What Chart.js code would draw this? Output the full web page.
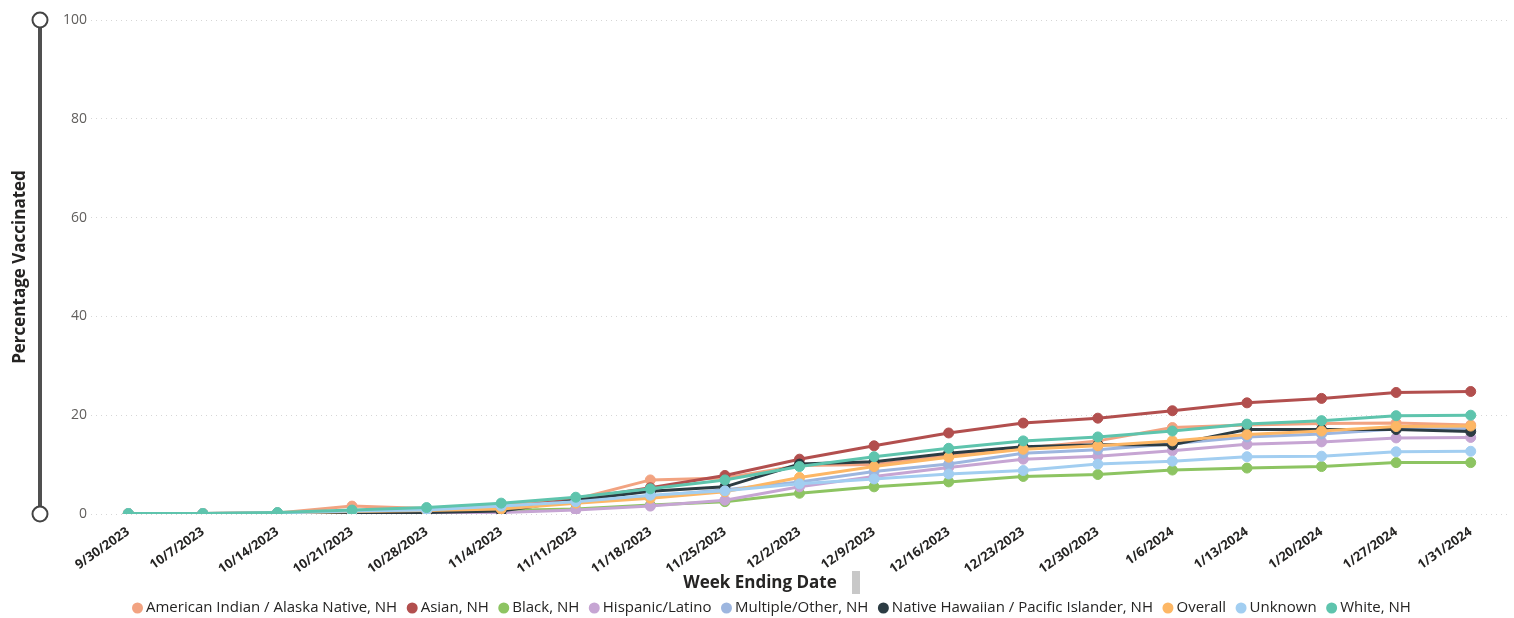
<!DOCTYPE html>
<html>
<head>
<meta charset="utf-8">
<title>Percentage Vaccinated by Week</title>
<script src="https://cdn.jsdelivr.net/npm/chart.js@4/dist/chart.umd.min.js"></script>
<style>
  html, body { margin: 0; padding: 0; background: #ffffff; }
  #wrap { width: 1514px; height: 618px; position: relative; }
</style>
</head>
<body>
<div id="wrap"><canvas id="chart" width="1514" height="618"></canvas></div>
<script>
// Week ending dates (x categories)
const weeks = ['9/30/2023', '10/7/2023', '10/14/2023', '10/21/2023', '10/28/2023', '11/4/2023',
  '11/11/2023', '11/18/2023', '11/25/2023', '12/2/2023', '12/9/2023', '12/16/2023',
  '12/23/2023', '12/30/2023', '1/6/2024', '1/13/2024', '1/20/2024', '1/27/2024', '1/31/2024'];

// Y axis ticks
const yTicks = [0, 20, 40, 60, 80, 100];

// Percentage vaccinated per group
const aian     = [0.1, 0.1, 0.2, 1.6, 1.1, 1.8, 3.0, 6.9, 7.3, 9.8, 10.0, 11.8, 13.3, 14.8, 17.5, 18.0, 18.3, 18.4, 18.0];
const asian    = [0.1, 0.1, 0.2, 0.5, 0.7, 1.2, 3.0, 5.3, 7.8, 11.1, 13.8, 16.4, 18.4, 19.4, 20.9, 22.5, 23.4, 24.6, 24.8];
const black    = [0.0, 0.0, 0.1, 0.2, 0.4, 0.7, 1.0, 1.8, 2.5, 4.2, 5.5, 6.5, 7.6, 8.0, 8.9, 9.3, 9.6, 10.4, 10.4];
const hispanic = [0.0, 0.0, 0.1, 0.2, 0.2, 0.3, 0.8, 1.6, 2.8, 5.5, 7.6, 9.4, 11.1, 11.7, 12.8, 14.1, 14.6, 15.4, 15.5];
const multiple = [0.1, 0.1, 0.2, 0.6, 0.8, 1.5, 2.3, 3.6, 4.9, 6.5, 8.6, 10.1, 12.3, 13.0, 14.2, 15.6, 16.2, 17.2, 17.3];
const nhpi     = [0.0, 0.0, 0.1, 0.2, 0.3, 0.6, 2.8, 4.6, 5.5, 10.1, 10.6, 12.3, 13.6, 14.0, 14.0, 17.1, 17.1, 17.1, 16.7];
const overall  = [0.1, 0.1, 0.2, 0.5, 0.7, 1.0, 2.2, 3.2, 4.5, 7.4, 9.6, 11.5, 13.1, 13.8, 14.8, 16.1, 16.8, 17.7, 17.8];
const unknown  = [0.1, 0.1, 0.2, 0.6, 0.8, 1.6, 2.5, 3.8, 4.7, 6.1, 7.1, 8.1, 8.8, 10.1, 10.7, 11.6, 11.7, 12.6, 12.7];
const white    = [0.1, 0.1, 0.3, 0.8, 1.3, 2.2, 3.4, 5.1, 6.9, 9.6, 11.6, 13.3, 14.8, 15.6, 16.8, 18.2, 18.9, 19.9, 20.0];

const groupNames = ['American Indian / Alaska Native, NH', 'Asian, NH', 'Black, NH', 'Hispanic/Latino',
  'Multiple/Other, NH', 'Native Hawaiian / Pacific Islander, NH', 'Overall', 'Unknown', 'White, NH'];
const groupValues = [aian, asian, black, hispanic, multiple, nhpi, overall, unknown, white];
const groupColors = ['#F2A381', '#B24F4E', '#8DC462', '#C6A5D3', '#9DB6DF', '#2C3C43', '#FDB765', '#A2CEF1', '#5EC4AD'];

const FONT = "'Open Sans', 'Noto Sans', sans-serif";
const TEXT_DARK = '#252423';

const datasets = groupNames.map((name, i) => ({
  label: name,
  data: groupValues[i],
  borderColor: groupColors[i],
  backgroundColor: groupColors[i],
  pointBackgroundColor: groupColors[i],
  pointBorderColor: groupColors[i],
  borderWidth: 3,
  pointRadius: 5,
  pointBorderWidth: 1,
  tension: 0,
  // later groups paint above earlier ones
  order: groupNames.length - 1 - i
}));

// Range slider on the left, x-axis title with its handle, and the series legend
const decorations = {
  id: 'decorations',
  afterDraw(chart) {
    const ctx = chart.ctx;
    const y = chart.scales.y;
    const top = y.getPixelForValue(100);
    const bottom = y.getPixelForValue(0);
    const sx = 40;
    ctx.save();
    ctx.strokeStyle = '#505050';
    ctx.lineWidth = 4;
    ctx.beginPath();
    ctx.moveTo(sx, top);
    ctx.lineTo(sx, bottom);
    ctx.stroke();
    [top, bottom].forEach(cy => {
      ctx.beginPath();
      ctx.arc(sx, cy, 7.5, 0, Math.PI * 2);
      ctx.fillStyle = '#ffffff';
      ctx.fill();
      ctx.lineWidth = 2;
      ctx.strokeStyle = '#444444';
      ctx.stroke();
    });

    // x-axis title
    ctx.font = `bold 17px ${FONT}`;
    ctx.fillStyle = TEXT_DARK;
    ctx.textAlign = 'center';
    ctx.textBaseline = 'middle';
    ctx.fillText('Week Ending Date', 760, 583);
    ctx.fillStyle = '#C8C8C8';
    ctx.fillRect(852, 571, 8, 23);

    // legend row
    ctx.font = `15px ${FONT}`;
    ctx.textAlign = 'left';
    ctx.textBaseline = 'middle';
    let lx = 132;
    const ly = 608;
    chart.data.datasets.forEach(ds => {
      ctx.beginPath();
      ctx.arc(lx + 5.5, ly, 5.5, 0, Math.PI * 2);
      ctx.fillStyle = ds.borderColor;
      ctx.fill();
      ctx.fillStyle = TEXT_DARK;
      ctx.fillText(ds.label, lx + 14, ly);
      lx += 14 + ctx.measureText(ds.label).width + 9.5;
    });
    ctx.restore();
  }
};

new Chart(document.getElementById('chart'), {
  type: 'line',
  data: { labels: weeks, datasets },
  plugins: [decorations],
  options: {
    responsive: false,
    animation: false,
    layout: { padding: { top: 20, right: 6, left: 0, bottom: 22 } },
    scales: {
      x: {
        type: 'category',
        offset: true,
        grid: { display: false },
        border: { display: false },
        ticks: {
          autoSkip: false,
          maxRotation: 35,
          minRotation: 35,
          padding: 2,
          color: TEXT_DARK,
          font: { family: FONT, size: 13, weight: 'bold' }
        },
        afterFit(scale) { scale.height = 82; }
      },
      y: {
        min: 0,
        max: 100,
        afterBuildTicks(scale) { scale.ticks = yTicks.map(v => ({ value: v })); },
        grid: { color: '#D6D6D6', lineWidth: 1, drawTicks: false },
        border: { display: false, dash: [1, 4] },
        ticks: {
          padding: 4,
          color: '#605E5C',
          font: { family: FONT, size: 14 }
        },
        title: {
          display: true,
          text: 'Percentage Vaccinated',
          color: TEXT_DARK,
          font: { family: FONT, size: 17, weight: 'bold' },
          padding: { top: 10, bottom: 0 }
        },
        afterFit(scale) { scale.width = 91; }
      }
    },
    plugins: {
      legend: { display: false },
      tooltip: { enabled: false }
    }
  }
});
</script>
</body>
</html>
